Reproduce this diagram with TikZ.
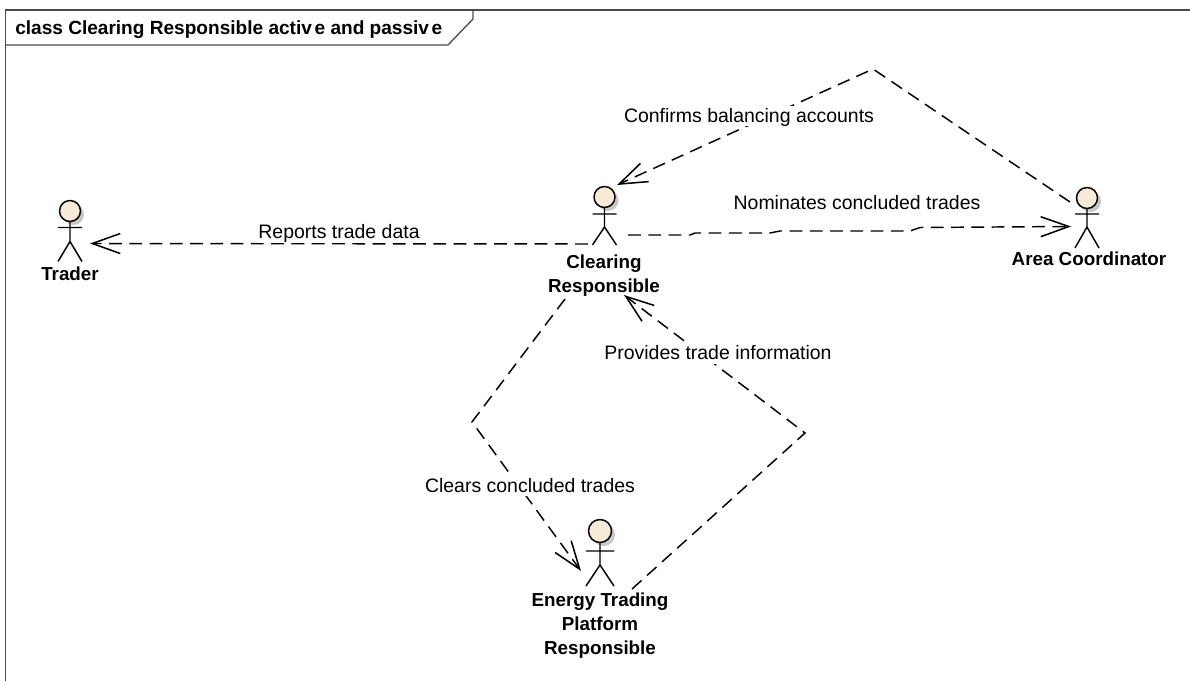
\documentclass[tikz,border=0pt]{standalone}
\usepackage{fontspec}
\setmainfont{Liberation Sans}
\usetikzlibrary{arrows.meta}
\definecolor{headfill}{HTML}{F6EAD9}
\definecolor{shadowgray}{HTML}{C8C8C8}
\definecolor{framegray}{HTML}{4A4A4A}
\tikzset{
  x=0.75pt,y=-0.75pt,
  frameline/.style={draw=framegray,line width=0.95pt},
  framelabel/.style={font=\fontsize{14.3pt}{17pt}\selectfont\bfseries,anchor=base west,inner sep=0pt},
  actorbox/.style={inner sep=0pt,minimum width=19pt,minimum height=37pt},
  actorline/.style={draw=black,line width=1.1pt},
  actorname/.style={font=\fontsize{14.1pt}{18pt}\selectfont\bfseries,align=center,inner sep=0pt,anchor=north},
  dep/.style={draw=black,line width=1.1pt,dash pattern=on 9.6pt off 5.6pt,-{Straight Barb[length=21pt,width=15pt,line width=1.15pt]}},
  deplabel/.style={font=\fontsize{14.6pt}{17pt}\selectfont,inner sep=0pt,anchor=base,fill=white,text height=12pt,text depth=3pt},
}
% name, cx, head cy, head r, arm y, half arm, hip y, feet y, half leg
\newcommand{\actorfig}[9]{%
  \node[actorbox] (#1) at (#2,{(#3-#4+#8)/2}) {};
  \fill[shadowgray] (#2+3.5,#3+3.5) circle[radius=#4*0.75pt];
  \draw[actorline,fill=headfill] (#2,#3) circle[radius=#4*0.75pt];
  \draw[actorline] (#2,#3+#4) -- (#2,#7) (#2-#6,#5) -- (#2+#6,#5)
    (#2-#9,#8) -- (#2,#7) -- (#2+#9,#8);
}
\begin{document}
\begin{tikzpicture}
\useasboundingbox (0,0) rectangle (1190,681);
\fill[white] (0,0) rectangle (1190,681);
% frame
\draw[frameline] (5.5,681) -- (5.5,10) -- (1190,10);
\draw[frameline] (5.5,45) -- (448,45) -- (473,19) -- (473,10);
\node[framelabel] (title) at (15,34.5) {class Clearing Responsible activ\kern2pt e and passiv\kern2pt e};
% actors
\actorfig{trader}{70}{211}{10.5}{227.5}{12}{241.5}{261.5}{12}
\actorfig{clearing}{604.5}{197}{10.5}{214}{12}{227}{245}{12}
\actorfig{area}{1087}{198}{10.5}{214}{12}{227}{248}{12}
\actorfig{energy}{600}{531}{11.5}{551}{14}{565}{586}{14}
\node[actorname] (traderlabel) at (70,267) {Trader};
\node[actorname] (clearinglabel) at (604,254.5) {Clearing\\Responsible};
\node[actorname] (arealabel) at (1089,252) {Area Coordinator};
\node[actorname] (energylabel) at (600,592.5) {Energy Trading\\Platform\\Responsible};
% bends
\coordinate (bendtop) at (873,69);
\coordinate (bendleft) at (472,422);
\coordinate (bendright) at (805,433);
\coordinate (nomA) at (690,235);
\coordinate (nomB) at (695,233);
\coordinate (nomC) at (770,233);
\coordinate (nomD) at (780,231);
\coordinate (nomE) at (910,231);
\coordinate (nomF) at (920,227.5);
% connectors
\draw[dep] ([shift={(-16.5,28.25)}]clearing.center) -- ([shift={(20,12.5)}]trader.center);
\draw[dep] ([shift={(23.5,19.25)}]clearing.center) -- (nomA) -- (nomB) -- (nomC) -- (nomD) -- (nomE) -- (nomF) -- ([shift={(-16,8.75)}]area.center);
\draw[dep] ([shift={(-17,-15.75)}]area.center) -- (bendtop) -- ([shift={(12.5,-30.75)}]clearing.center);
\draw[dep] ([shift={(-39.5,83.25)}]clearing.center) -- (bendleft) -- ([shift={(-19,18.25)}]energy.center);
\draw[dep] ([shift={(32,36.25)}]energy.center) -- (bendright) -- ([shift={(19.5,79.25)}]clearing.center);
% labels
\node[deplabel] (reports) at (339,239) {Reports trade data};
\node[deplabel] (nominates) at (857,210) {Nominates concluded trades};
\node[deplabel] (confirms) at (749,122.5) {Confirms balancing accounts};
\node[deplabel] (provides) at (718,359.5) {Provides trade information};
\node[deplabel] (clears) at (530,492) {Clears concluded trades};
\end{tikzpicture}
\end{document}
